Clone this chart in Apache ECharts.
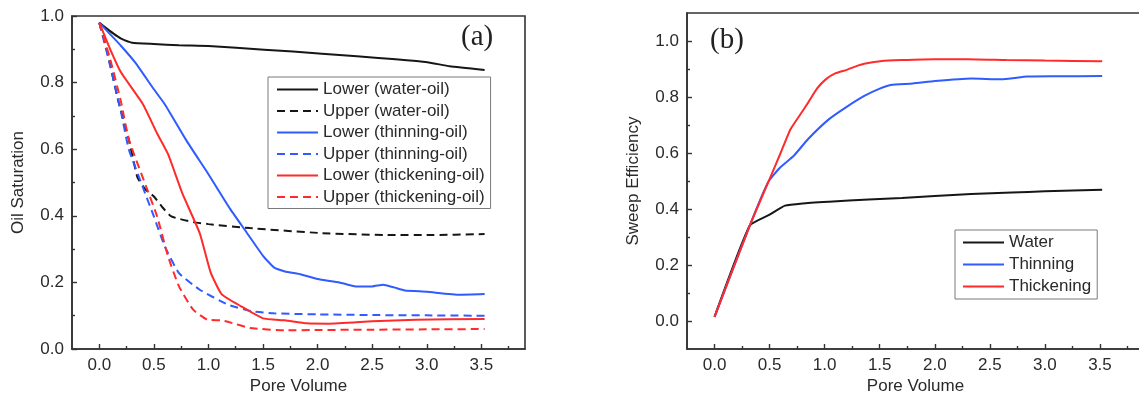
<!DOCTYPE html>
<html>
<head>
<meta charset="utf-8">
<script src="https://cdn.jsdelivr.net/npm/echarts@6/dist/echarts.min.js"></script>
<style>
  html, body { margin: 0; padding: 0; background: #fff; }
  #chart { width: 1139px; height: 399px; }
</style>
</head>
<body>
<div id="chart"></div>
<script>
// Panel (a): oil saturation vs injected pore volume
const lowerWaterX = [0, 0.07, 0.13, 0.2, 0.3, 0.5, 0.73, 1.0, 1.51, 2.04, 2.36, 2.99, 3.21, 3.53];
const lowerWaterY = [0.98, 0.962, 0.947, 0.932, 0.92, 0.916, 0.912, 0.91, 0.899, 0.887, 0.879, 0.862, 0.849, 0.838];

const upperWaterX = [0, 0.07, 0.17, 0.27, 0.35, 0.42, 0.5, 0.58, 0.66, 0.86, 1.0, 1.38, 2.04, 2.69, 3.0, 3.53];
const upperWaterY = [0.98, 0.897, 0.75, 0.63, 0.515, 0.48, 0.458, 0.425, 0.398, 0.381, 0.375, 0.363, 0.348, 0.342, 0.342, 0.345];

const lowerThinX = [0, 0.1, 0.2, 0.33, 0.5, 0.6, 0.8, 1.0, 1.2, 1.35, 1.5, 1.6, 1.7, 1.85, 2.0, 2.2, 2.35, 2.5, 2.6, 2.7, 2.8, 3.0, 3.3, 3.53];
const lowerThinY = [0.98, 0.945, 0.91, 0.86, 0.78, 0.735, 0.625, 0.525, 0.42, 0.35, 0.28, 0.245, 0.233, 0.224, 0.21, 0.2, 0.188, 0.188, 0.193, 0.185, 0.176, 0.172, 0.163, 0.165];

const upperThinX = [0, 0.1, 0.2, 0.27, 0.4, 0.5, 0.6, 0.73, 0.92, 1.18, 1.4, 1.6, 2.0, 2.5, 3.0, 3.53];
const upperThinY = [0.98, 0.85, 0.71, 0.6, 0.485, 0.398, 0.308, 0.228, 0.178, 0.133, 0.113, 0.107, 0.104, 0.102, 0.101, 0.1];

const lowerThickX = [0, 0.1, 0.2, 0.4, 0.53, 0.63, 0.76, 0.92, 1.02, 1.12, 1.3, 1.5, 1.7, 1.9, 2.1, 2.5, 2.9, 3.53];
const lowerThickY = [0.98, 0.9, 0.83, 0.735, 0.647, 0.585, 0.468, 0.348, 0.23, 0.165, 0.128, 0.092, 0.086, 0.077, 0.076, 0.083, 0.088, 0.09];

const upperThickX = [0, 0.1, 0.2, 0.27, 0.43, 0.53, 0.63, 0.73, 0.86, 0.99, 1.12, 1.25, 1.38, 1.7, 2.0, 2.5, 3.0, 3.53];
const upperThickY = [0.98, 0.87, 0.74, 0.63, 0.487, 0.398, 0.278, 0.188, 0.118, 0.088, 0.086, 0.075, 0.063, 0.056, 0.057, 0.058, 0.059, 0.06];

// Panel (b): sweep efficiency vs injected pore volume
const waterX = [0, 0.32, 0.5, 0.64, 0.8, 1.04, 1.4, 1.7, 2.0, 2.33, 2.7, 3.0, 3.52];
const waterY = [0.015, 0.341, 0.38, 0.412, 0.42, 0.426, 0.434, 0.439, 0.446, 0.454, 0.459, 0.463, 0.469];

const thinningX = [0, 0.32, 0.49, 0.6, 0.72, 0.85, 1.04, 1.2, 1.36, 1.5, 1.6, 1.8, 2.0, 2.33, 2.6, 2.84, 3.1, 3.52];
const thinningY = [0.015, 0.341, 0.498, 0.55, 0.59, 0.65, 0.721, 0.765, 0.804, 0.83, 0.843, 0.848, 0.857, 0.866, 0.863, 0.873, 0.874, 0.875];

const thickeningX = [0, 0.32, 0.49, 0.6, 0.69, 0.8, 0.85, 0.93, 1.01, 1.1, 1.2, 1.3, 1.36, 1.52, 1.7, 2.0, 2.3, 2.65, 3.0, 3.52];
const thickeningY = [0.015, 0.341, 0.498, 0.6, 0.685, 0.75, 0.78, 0.83, 0.863, 0.885, 0.897, 0.912, 0.919, 0.929, 0.932, 0.935, 0.935, 0.932, 0.93, 0.928];

// Tick positions
const xMajorTicks = [0, 0.5, 1.0, 1.5, 2.0, 2.5, 3.0, 3.5];
const xMinorTicks = [0.25, 0.75, 1.25, 1.75, 2.25, 2.75, 3.25, 3.75];
const yMajorTicksB = [0, 0.2, 0.4, 0.6, 0.8, 1.0];
const yMinorTicksB = [0.1, 0.3, 0.5, 0.7, 0.9];

const BLACK = '#161616';
const BLUE = '#2f5bff';
const RED = '#ff2b2b';
const AXIS = '#333333';
const TEXT = '#2a2a2a';
const FONT = 'Liberation Sans';

function zip(xs, ys) { return xs.map((x, i) => [x, ys[i]]); }
const fmt = v => v.toFixed(1);

function lineSeries(name, xs, ys, color, dashed, xIdx, yIdx) {
  return {
    name, type: 'line', data: zip(xs, ys),
    xAxisIndex: xIdx, yAxisIndex: yIdx,
    showSymbol: false, symbol: 'none',
    smooth: 0.15,
    lineStyle: { color, width: 2, type: dashed ? [8, 5] : 'solid' },
    itemStyle: { color },
    emphasis: { disabled: true }, animation: false
  };
}

function majorX(grid) {
  return {
    type: 'value', gridIndex: grid, position: 'bottom', min: -0.25, max: 3.9,
    name: 'Pore Volume', nameLocation: 'middle', nameGap: 29, nameMoveOverlap: false,
    nameTextStyle: { fontFamily: FONT, fontSize: 17, color: TEXT },
    axisLine: { show: true, onZero: false, lineStyle: { color: AXIS, width: 1.6 } },
    axisTick: { show: true, inside: true, length: 5, customValues: xMajorTicks, lineStyle: { color: AXIS, width: 1.4 } },
    axisLabel: { show: true, customValues: xMajorTicks, formatter: fmt, margin: 8, fontFamily: FONT, fontSize: 17, color: TEXT },
    splitLine: { show: false }, minorTick: { show: false }
  };
}
function minorX(grid) {
  return {
    type: 'value', gridIndex: grid, position: 'bottom', min: -0.25, max: 3.9,
    axisLine: { show: false, onZero: false },
    axisTick: { show: true, inside: true, length: 3, customValues: xMinorTicks, lineStyle: { color: AXIS, width: 1.4 } },
    axisLabel: { show: false }, splitLine: { show: false }
  };
}

const legendCommon = {
  orient: 'vertical', itemWidth: 41, itemHeight: 12,
  borderColor: '#7a7a7a', borderWidth: 1,
  itemStyle: { opacity: 0 },
  selectedMode: false
};

const option = {
  animation: false,
  backgroundColor: '#ffffff',
  textStyle: { fontFamily: FONT },
  title: [
    { text: '(a)', left: 461, top: 23, padding: 0,
      textStyle: { fontFamily: 'Liberation Serif', fontSize: 29, fontWeight: 'normal', color: '#222' } },
    { text: '(b)', left: 710, top: 26, padding: 0,
      textStyle: { fontFamily: 'Liberation Serif', fontSize: 29, fontWeight: 'normal', color: '#222' } }
  ],
  grid: [
    { left: 72, top: 16, width: 453, height: 333, outerBoundsMode: 'none', containLabel: false,
      show: true, borderColor: AXIS, borderWidth: 1.6, backgroundColor: 'transparent' },
    { left: 687, top: 13, width: 457, height: 336, outerBoundsMode: 'none', containLabel: false,
      show: true, borderColor: AXIS, borderWidth: 1.6, backgroundColor: 'transparent' }
  ],
  legend: [
    Object.assign({}, legendCommon, {
      left: 268, top: 77, padding: [4, 6, 3, 8], itemGap: 4.5,
      textStyle: { fontFamily: FONT, fontSize: 17, color: TEXT },
      data: ['Lower (water-oil)', 'Upper (water-oil)', 'Lower (thinning-oil)', 'Upper (thinning-oil)', 'Lower (thickening-oil)', 'Upper (thickening-oil)']
    }),
    Object.assign({}, legendCommon, {
      left: 955, top: 230, padding: [4, 6, 4, 7], itemGap: 5,
      textStyle: { fontFamily: FONT, fontSize: 17, color: TEXT },
      data: ['Water', 'Thinning', 'Thickening']
    })
  ],
  xAxis: [majorX(0), minorX(0), majorX(1), minorX(1)],
  yAxis: [
    {
      type: 'value', gridIndex: 0, min: 0, max: 1, interval: 0.2, position: 'left',
      name: 'Oil Saturation', nameLocation: 'middle', nameGap: 45, nameMoveOverlap: false,
      nameTextStyle: { fontFamily: FONT, fontSize: 17, color: TEXT },
      axisLine: { show: true, onZero: false, lineStyle: { color: AXIS, width: 1.6 } },
      axisTick: { show: true, inside: true, length: 5, lineStyle: { color: AXIS, width: 1.4 } },
      minorTick: { show: true, splitNumber: 2, length: 3, lineStyle: { color: AXIS, width: 1.4 } },
      axisLabel: { formatter: fmt, margin: 8, fontFamily: FONT, fontSize: 17, color: TEXT },
      splitLine: { show: false }, minorSplitLine: { show: false }
    },
    {
      type: 'value', gridIndex: 1, min: -0.1, max: 1.1, position: 'left',
      name: 'Sweep Efficiency', nameLocation: 'middle', nameGap: 45, nameMoveOverlap: false,
      nameTextStyle: { fontFamily: FONT, fontSize: 17, color: TEXT },
      axisLine: { show: true, onZero: false, lineStyle: { color: AXIS, width: 1.6 } },
      axisTick: { show: true, inside: true, length: 5, customValues: yMajorTicksB, lineStyle: { color: AXIS, width: 1.4 } },
      axisLabel: { customValues: yMajorTicksB, formatter: fmt, margin: 8, fontFamily: FONT, fontSize: 17, color: TEXT },
      splitLine: { show: false }
    },
    {
      type: 'value', gridIndex: 1, min: -0.1, max: 1.1, position: 'left',
      axisLine: { show: false, onZero: false },
      axisTick: { show: true, inside: true, length: 3, customValues: yMinorTicksB, lineStyle: { color: AXIS, width: 1.4 } },
      axisLabel: { show: false }, splitLine: { show: false }
    }
  ],
  series: [
    lineSeries('Lower (water-oil)', lowerWaterX, lowerWaterY, BLACK, false, 0, 0),
    lineSeries('Upper (water-oil)', upperWaterX, upperWaterY, BLACK, true, 0, 0),
    lineSeries('Lower (thinning-oil)', lowerThinX, lowerThinY, BLUE, false, 0, 0),
    lineSeries('Upper (thinning-oil)', upperThinX, upperThinY, BLUE, true, 0, 0),
    lineSeries('Lower (thickening-oil)', lowerThickX, lowerThickY, RED, false, 0, 0),
    lineSeries('Upper (thickening-oil)', upperThickX, upperThickY, RED, true, 0, 0),
    lineSeries('Water', waterX, waterY, BLACK, false, 2, 1),
    lineSeries('Thinning', thinningX, thinningY, BLUE, false, 2, 1),
    lineSeries('Thickening', thickeningX, thickeningY, RED, false, 2, 1)
  ]
};

const chart = echarts.init(document.getElementById('chart'), null, { renderer: 'canvas' });
chart.setOption(option);
</script>
</body>
</html>
